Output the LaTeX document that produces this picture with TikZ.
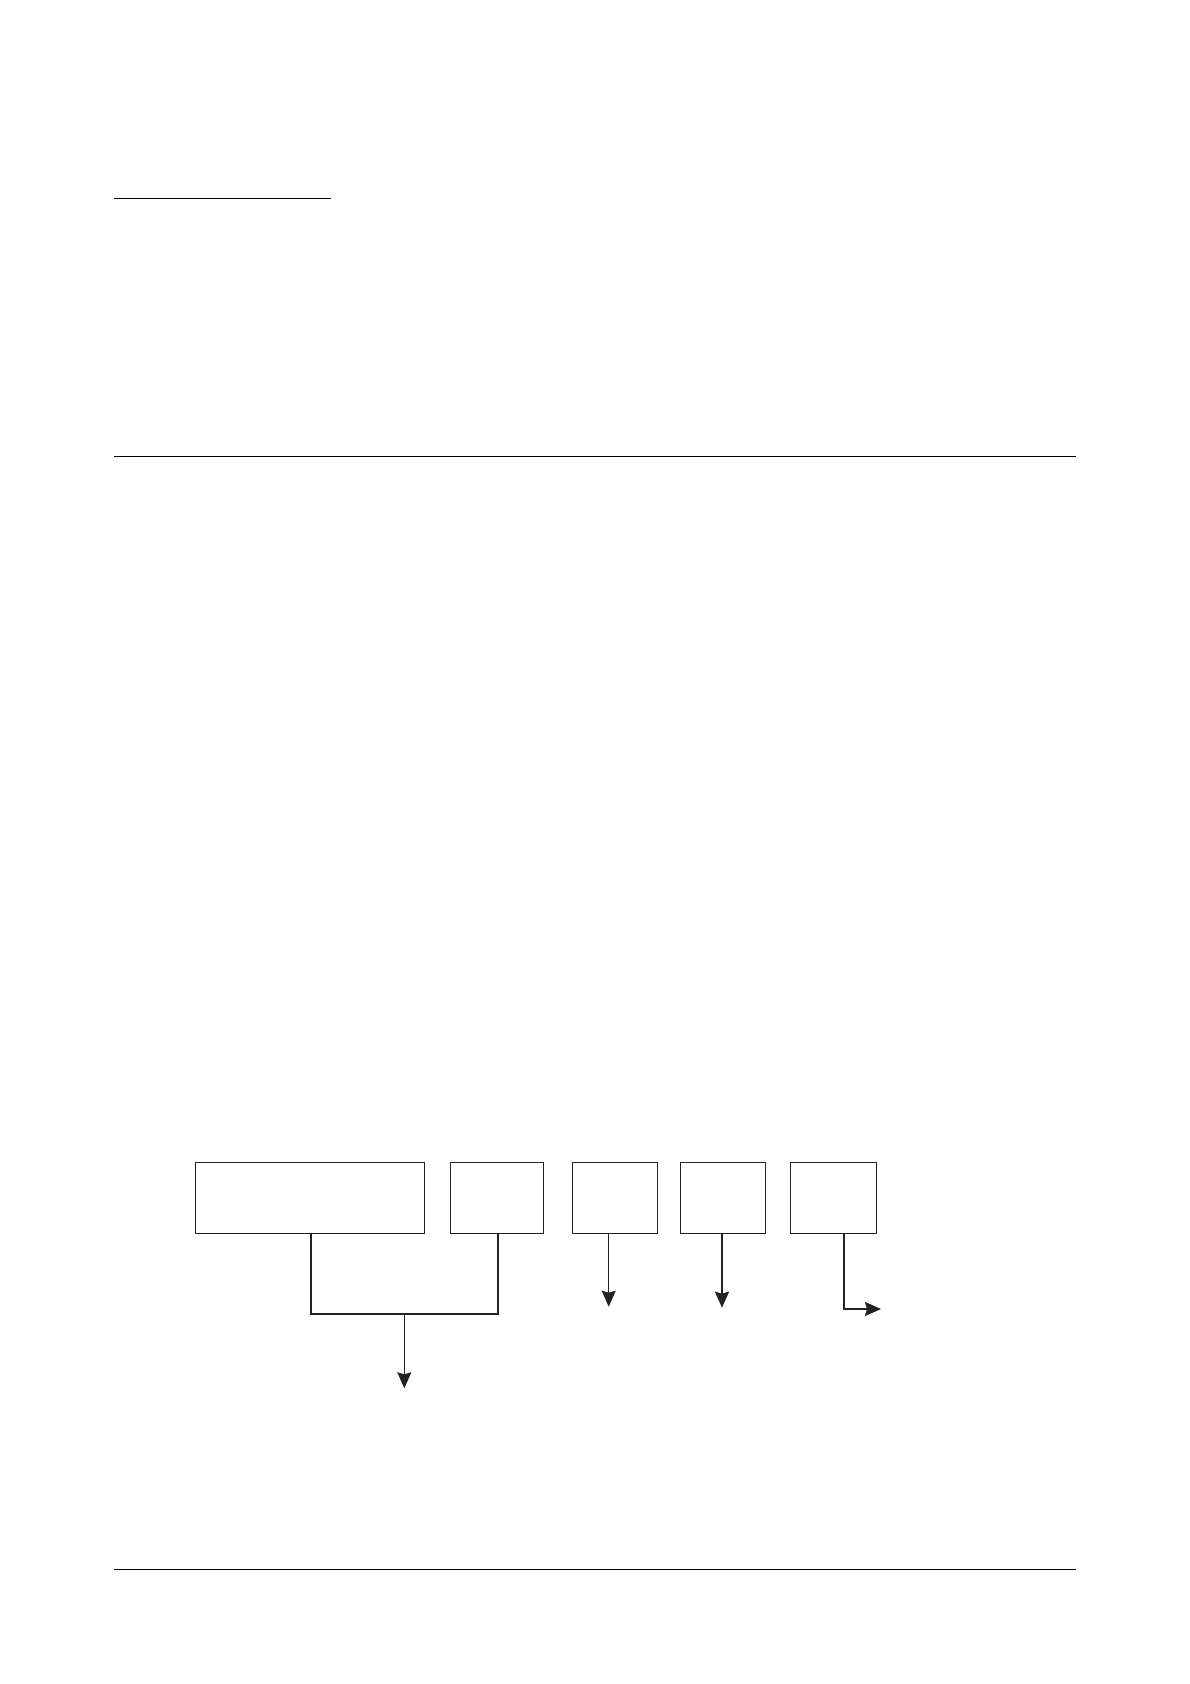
\documentclass[tikz,border=0pt]{standalone}
\usetikzlibrary{arrows.meta}
\definecolor{ink}{HTML}{222222}
\tikzset{
  blockbox/.style={draw=ink, line width=1.1pt, minimum height=71pt, inner sep=0pt, anchor=north},
  thinline/.style={draw=ink, line width=1.1pt},
  thickline/.style={draw=ink, line width=2pt},
  tip/.style={-{Stealth[length=16pt,width=14pt,inset=2pt]}},
  rule/.style={draw=black, line width=1.2pt},
}
\begin{document}
\begin{tikzpicture}[x=1pt,y=-1pt]
\useasboundingbox (0,0) rectangle (1190,1684);
% page rules
\coordinate (r1a) at (114,198.3); \coordinate (r1b) at (330.7,198.3);
\coordinate (r2a) at (114,456.3); \coordinate (r2b) at (1076,456.3);
\coordinate (r3a) at (114,1569.3); \coordinate (r3b) at (1076,1569.3);
\draw[rule] (r1a) -- (r1b);
\draw[rule] (r2a) -- (r2b);
\draw[rule] (r3a) -- (r3b);
% boxes
\node[blockbox, minimum width=229.4pt] (b1) at (310,1162.3) {};
\node[blockbox, minimum width=93pt]    (b2) at (496.8,1161.8) {};
\node[blockbox, minimum width=85pt]    (b3) at (614.8,1161.8) {};
\node[blockbox, minimum width=85pt]    (b4) at (722.8,1161.8) {};
\node[blockbox, minimum width=86pt]    (b5) at (833.3,1161.8) {};
% bracket from b1 and b2
\coordinate (j1) at ([xshift=1pt]b1.south |- 0,1314.3);
\coordinate (j2) at ([xshift=1.2pt]b2.south |- 0,1314.3);
\coordinate (jm) at (404.3,1314.3);
\coordinate (jt) at (404.3,1388.3);
\draw[thickline] ([xshift=1pt]b1.south) -- (j1) -- (j2) -- ([xshift=1.2pt]b2.south);
\draw[thinline, tip] (jm) -- (jt);
% b3 arrow
\coordinate (e3) at (608.7,1306.7);
\draw[thinline, tip] (b3.south -| e3) -- (e3);
% b4 arrow
\coordinate (e4) at (722,1307.7);
\draw[thickline, tip] (b4.south -| e4) -- (e4);
% b5 elbow arrow
\coordinate (k5) at (843.7,1309);
\coordinate (e5) at (881,1309);
\draw[thickline, tip] (b5.south -| k5) -- (k5) -- (e5);
\end{tikzpicture}
\end{document}
